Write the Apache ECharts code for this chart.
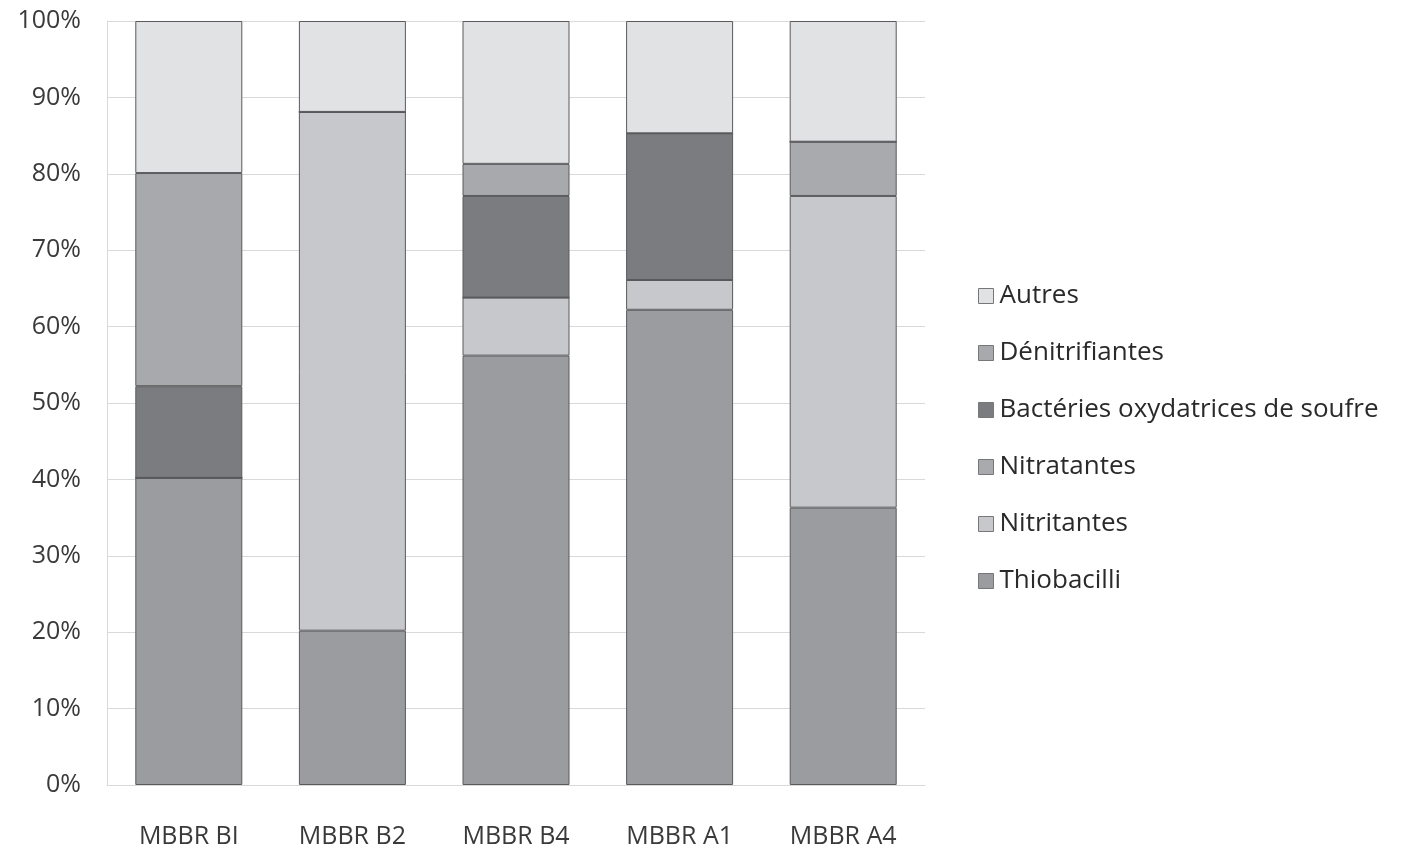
<!DOCTYPE html>
<html>
<head>
<meta charset="utf-8">
<script src="https://cdn.jsdelivr.net/npm/echarts@6/dist/echarts.min.js"></script>
<style>
  html, body { margin: 0; padding: 0; background: #fff; }
  #chart { width: 1405px; height: 849px; }
</style>
</head>
<body>
<div id="chart"></div>
<script>
// Bacterial community composition per reactor (% of total)
const categories = ['MBBR BI', 'MBBR B2', 'MBBR B4', 'MBBR A1', 'MBBR A4'];
const thiobacilli    = [40.2, 20.2, 56.2, 62.2, 36.3];
const nitritantes    = [0, 67.9, 7.6, 3.9, 40.8];
const nitratantes    = [0, 0, 0, 0, 7.1];
const bacteriesOxy   = [12.0, 0, 13.3, 19.2, 0];
const denitrifiantes = [27.9, 0, 4.2, 0, 0];
const autres         = [19.9, 11.9, 18.7, 14.7, 15.8];
const yTicks = [0, 10, 20, 30, 40, 50, 60, 70, 80, 90, 100];

const seriesDefs = [
  { name: 'Thiobacilli', data: thiobacilli, color: '#9b9c9f' },
  { name: 'Nitritantes', data: nitritantes, color: '#c6c8cb' },
  { name: 'Nitratantes', data: nitratantes, color: '#a9aaad' },
  { name: 'Bactéries oxydatrices de soufre', data: bacteriesOxy, color: '#7b7c7f' },
  { name: 'Dénitrifiantes', data: denitrifiantes, color: '#a8a9ac' },
  { name: 'Autres', data: autres, color: '#e1e2e4' }
];

const chart = echarts.init(document.getElementById('chart'));
chart.setOption({
  animation: false,
  backgroundColor: '#ffffff',
  textStyle: { fontFamily: '"Open Sans", Lato, sans-serif' },
  grid: { left: 107, right: 480, top: 21, bottom: 64 },
  legend: {
    orient: 'vertical',
    left: 973,
    top: 278,
    itemWidth: 15,
    itemHeight: 15,
    itemGap: 31,
    icon: 'rect',
    data: seriesDefs.map(s => s.name).reverse(),
    textStyle: { fontSize: 26, color: '#2a2a2a', padding: [0, 0, 0, 1] },
    itemStyle: { borderColor: '#777', borderWidth: 1 }
  },
  xAxis: {
    type: 'category',
    data: categories,
    axisLine: { show: true, lineStyle: { color: '#d9d9d9', width: 1 } },
    axisTick: { show: false },
    axisLabel: { fontSize: 25, color: '#3a3a3a', margin: 39 }
  },
  yAxis: {
    type: 'value',
    min: yTicks[0],
    max: yTicks[yTicks.length - 1],
    interval: 10,
    axisLine: { show: true, lineStyle: { color: '#d9d9d9', width: 1 } },
    axisTick: { show: false },
    splitLine: { lineStyle: { color: '#d9d9d9', width: 1 } },
    axisLabel: { fontSize: 25, color: '#3a3a3a', margin: 26, formatter: '{value}%' }
  },
  series: seriesDefs.map(s => ({
    name: s.name,
    type: 'bar',
    stack: 'total',
    barWidth: 107,
    data: s.data,
    itemStyle: { color: s.color, borderColor: '#5a5a5c', borderWidth: 1 },
    emphasis: { disabled: true }
  }))
});
</script>
</body>
</html>
